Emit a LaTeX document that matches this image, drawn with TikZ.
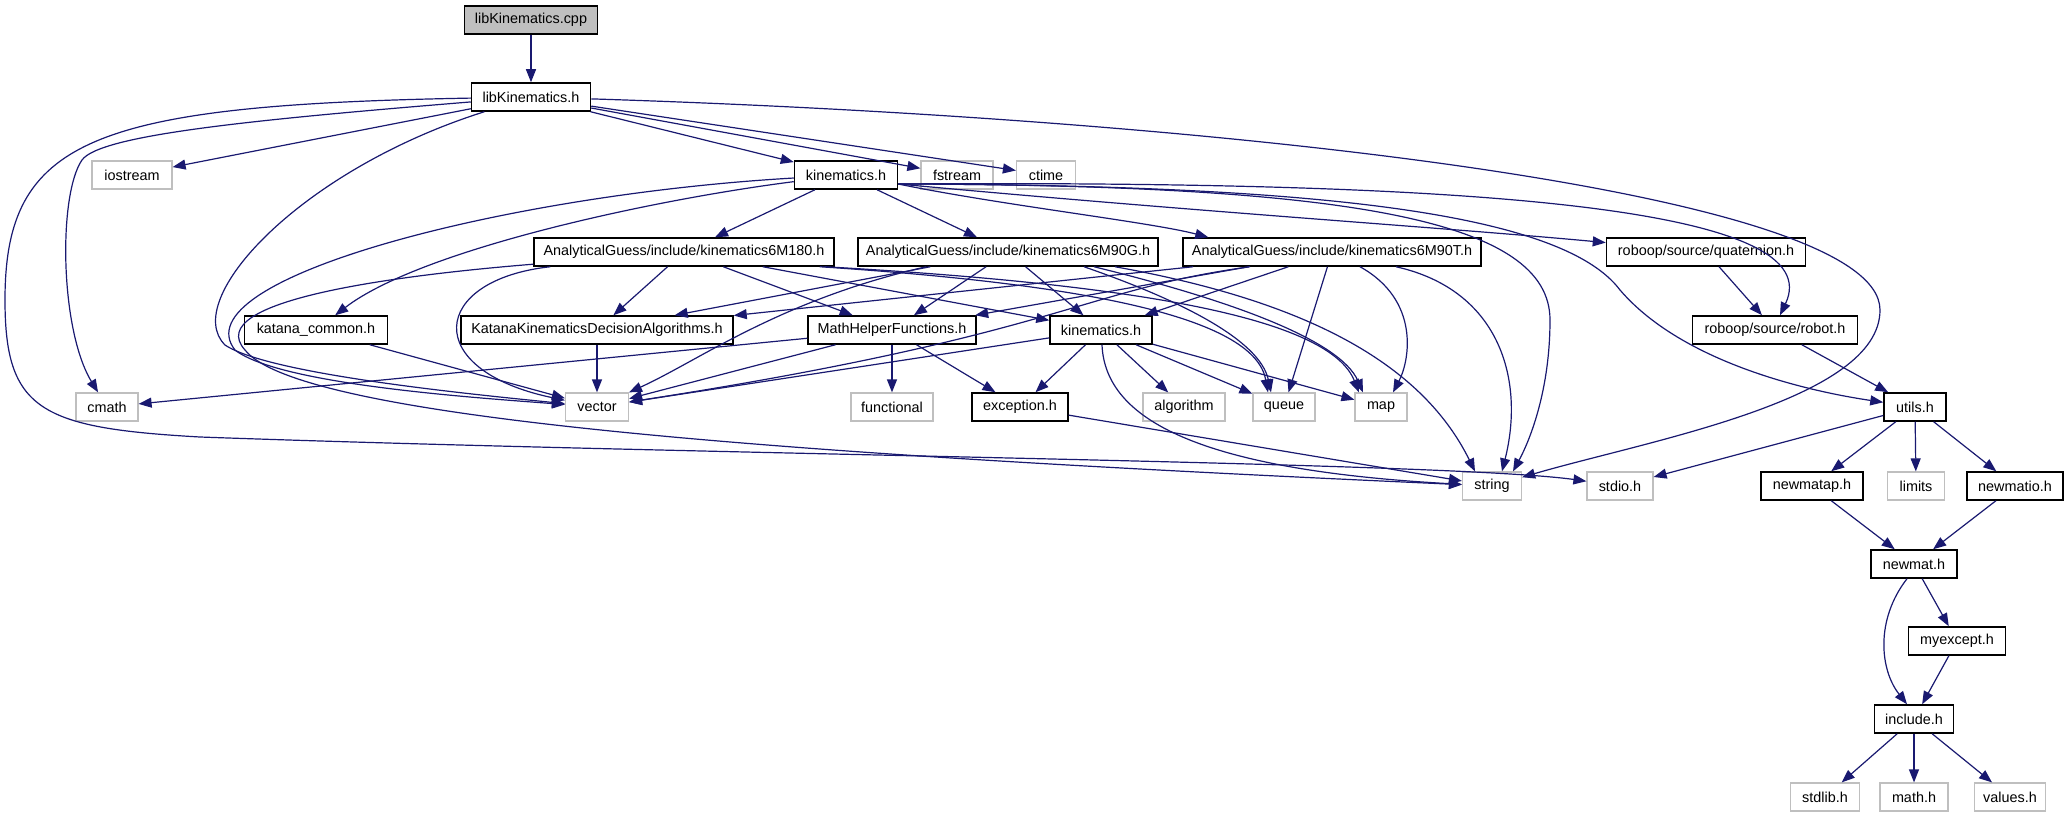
\documentclass[tikz,border=0pt]{standalone}
\usepackage{fontspec}
\setmainfont{Liberation Sans}
\usepackage{xcolor}
\usepackage{tikz}
\usetikzlibrary{arrows.meta,calc}
\definecolor{DoxyBlue}{HTML}{191970}
\definecolor{DoxyGray}{HTML}{BFBFBF}
\tikzset{
  >={Triangle[length=6.5pt,width=5pt]},
  flow/.style={->,draw=DoxyBlue,line width=0.6pt},
  hfile/.style={draw=black,fill=white,line width=0.75pt,minimum height=14pt,
    inner xsep=2pt,inner ysep=0pt,font=\fontsize{7.2}{8}\selectfont},
  sysfile/.style={hfile,draw=DoxyGray,line width=0.6pt},
  srcfile/.style={hfile,fill=DoxyGray}
}
\begin{document}
\begin{tikzpicture}[x=0.5pt,y=-0.5pt]
        \useasboundingbox (0,0) rectangle (2069,813);
        \node[srcfile,minimum width=66.5pt] (cpp) at (531,20) {libKinematics.cpp};
        \node[hfile,minimum width=59.5pt] (libh) at (531,97) {libKinematics.h};
        \node[sysfile,minimum width=40pt] (iostream) at (132,175) {iostream};
        \node[hfile,minimum width=51.5pt] (kinA) at (846,175) {kinematics.h};
        \node[sysfile,minimum width=36pt] (fstream) at (957,175) {fstream};
        \node[sysfile,minimum width=29.5pt] (ctime) at (1046,175) {ctime};
        \node[hfile,minimum width=150pt] (g180) at (684,252) {AnalyticalGuess/include/kinematics6M180.h};
        \node[hfile,minimum width=150pt] (g90g) at (1008,252) {AnalyticalGuess/include/kinematics6M90G.h};
        \node[hfile,minimum width=149pt] (g90t) at (1332,252) {AnalyticalGuess/include/kinematics6M90T.h};
        \node[hfile,minimum width=99.5pt] (quat) at (1706,252) {roboop/source/quaternion.h};
        \node[hfile,minimum width=71.5pt] (katana) at (316,330) {katana\_common.h};
        \node[hfile,minimum width=136pt] (kkda) at (597,330) {KatanaKinematicsDecisionAlgorithms.h};
        \node[hfile,minimum width=84pt] (mhf) at (892,330) {MathHelperFunctions.h};
        \node[hfile,minimum width=51pt] (kinB) at (1101,330) {kinematics.h};
        \node[hfile,minimum width=82.5pt] (robot) at (1775,330) {roboop/source/robot.h};
        \node[sysfile,minimum width=31pt] (cmath) at (107,407) {cmath};
        \node[sysfile,minimum width=31.5pt] (vector) at (597,407) {vector};
        \node[sysfile,minimum width=41pt] (functional) at (892,407) {functional};
        \node[hfile,minimum width=48pt] (exception) at (1020,407) {exception.h};
        \node[sysfile,minimum width=41pt] (algorithm) at (1184,407) {algorithm};
        \node[sysfile,minimum width=31pt] (queue) at (1284,407) {queue};
        \node[sysfile,minimum width=26pt] (map) at (1381,407) {map};
        \node[hfile,minimum width=31pt] (utils) at (1915,407) {utils.h};
        \node[sysfile,minimum width=29.5pt] (string) at (1492,486) {string};
        \node[sysfile,minimum width=33pt] (stdio) at (1620,486) {stdio.h};
        \node[hfile,minimum width=51pt] (newmatap) at (1812,486) {newmatap.h};
        \node[sysfile,minimum width=28.5pt] (limits) at (1916,486) {limits};
        \node[hfile,minimum width=48pt] (newmatio) at (2015,486) {newmatio.h};
        \node[hfile,minimum width=43pt] (newmat) at (1914,564) {newmat.h};
        \node[hfile,minimum width=48.5pt] (myexcept) at (1957,641) {myexcept.h};
        \node[hfile,minimum width=39.5pt] (include) at (1914,719) {include.h};
        \node[sysfile,minimum width=34.5pt] (stdlib) at (1825,797) {stdlib.h};
        \node[sysfile,minimum width=34pt] (mathh) at (1914,797) {math.h};
        \node[sysfile,minimum width=35.5pt] (values) at (2010,797) {values.h};
        \coordinate (kinAout) at ($(kinA.east)+(0,9)$);
        \draw[flow] (cpp) -- (libh);
        \draw[flow] (libh) -- (iostream);
        \draw[flow] (libh) .. controls (250,120) and (100,135) .. (82,160) .. controls (58,195) and (60,330) .. (cmath);
        \draw[flow] (libh) .. controls (90,105) and (5,140) .. (5,300) .. controls (5,410) and (40,428) .. (200,437) .. controls (700,455) and (1450,462) .. (stdio);
        \draw[flow] (libh) .. controls (300,170) and (180,300) .. (225,345) .. controls (270,375) and (480,395) .. (vector);
        \draw[flow] (libh) -- (kinA);
        \draw[flow] (libh) -- (fstream);
        \draw[flow] (libh) -- (ctime);
        \draw[flow] (libh) .. controls (1200,118) and (1880,190) .. (1880,310) .. controls (1880,400) and (1650,440) .. (string);
        \draw[flow] (kinA) .. controls (650,200) and (420,250) .. (katana);
        \draw[flow] (kinA) .. controls (500,195) and (180,280) .. (235,350) .. controls (280,385) and (480,398) .. (vector);
        \draw[flow] (kinA) -- (g180);
        \draw[flow] (kinA) -- (g90g);
        \draw[flow] (kinAout) .. controls (1000,205) and (1150,222) .. ($(g90t.north west)+(26,0)$);
        \draw[flow] (kinAout) .. controls (1200,212) and (1450,228) .. (quat);
        \draw[flow] (kinAout) .. controls (1500,180) and (1830,210) .. ($(robot.north)+(5,0)$);
        \draw[flow] (kinAout) .. controls (1300,185) and (1560,210) .. (1620,290) .. controls (1680,360) and (1800,390) .. (utils);
        \draw[flow] (kinAout) .. controls (1350,185) and (1550,220) .. (1550,320) .. controls (1550,390) and (1530,440) .. ($(string.north)+(21,0)$);
        \draw[flow] (g180) .. controls (400,275) and (200,300) .. (245,350) .. controls (300,420) and (800,455) .. (string);
        \draw[flow] (g180) .. controls (430,280) and (420,370) .. (vector);
        \draw[flow] (g180) -- (kkda);
        \draw[flow] (g180) -- (mhf);
        \draw[flow] (g180) -- (kinB);
        \draw[flow] ($(g180.south east)+(-15,0)$) .. controls (1100,285) and (1255,320) .. ($(queue.north)+(-16,0)$);
        \draw[flow] ($(g180.south east)+(-10,0)$) .. controls (1150,285) and (1330,320) .. ($(map.north)+(-22,0)$);
        \draw[flow] (g90g) -- (kkda);
        \draw[flow] ($(g90g.south west)+(69,0)$) .. controls (780,300) and (700,360) .. (vector);
        \draw[flow] (g90g) -- (mhf);
        \draw[flow] (g90g) -- (kinB);
        \draw[flow] ($(g90g.south)+(76,0)$) .. controls (1180,300) and (1260,340) .. ($(queue.north)+(-13,0)$);
        \draw[flow] ($(g90g.south)+(86,0)$) .. controls (1230,300) and (1340,340) .. ($(map.north)+(-18,0)$);
        \draw[flow] ($(g90g.south)+(107,0)$) .. controls (1300,300) and (1420,360) .. ($(string.north)+(-17,0)$);
        \draw[flow] (g90t) -- (kkda);
        \draw[flow] (g90t) -- (mhf);
        \draw[flow] ($(g90t.south)+(-82,0)$) .. controls (1080,290) and (1060,335) .. (vector);
        \draw[flow] (g90t) -- (kinB);
        \draw[flow] (g90t) -- (queue);
        \draw[flow] ($(g90t.south)+(28,0)$) .. controls (1420,300) and (1410,360) .. ($(map.north)+(12,0)$);
        \draw[flow] ($(g90t.south)+(64,0)$) .. controls (1500,290) and (1525,380) .. ($(string.north)+(10,0)$);
        \draw[flow] (kinB) -- (vector);
        \draw[flow] (kinB) -- (exception);
        \draw[flow] ($(kinB.south)+(1,0)$) .. controls (1105,420) and (1200,470) .. (string);
        \draw[flow] (kinB) -- (algorithm);
        \draw[flow] (kinB) -- (queue);
        \draw[flow] (kinB) -- (map);
        \draw[flow] (mhf) -- (cmath);
        \draw[flow] (mhf) -- (vector);
        \draw[flow] (mhf) -- (functional);
        \draw[flow] (mhf) -- (exception);
        \draw[flow] (kkda) -- (vector);
        \draw[flow] (katana) -- (vector);
        \draw[flow] (exception) -- (string);
        \draw[flow] (quat) -- (robot);
        \draw[flow] (robot) -- (utils);
        \draw[flow] (utils) -- (stdio);
        \draw[flow] (utils) -- (newmatap);
        \draw[flow] (utils) -- (limits);
        \draw[flow] (utils) -- (newmatio);
        \draw[flow] (newmatap) -- (newmat);
        \draw[flow] (newmatio) -- (newmat);
        \draw[flow] (newmat) -- (myexcept);
        \draw[flow] ($(newmat.south)+(-7,0)$) .. controls (1875,620) and (1880,670) .. ($(include.north)+(-7,0)$);
        \draw[flow] (myexcept) -- (include);
        \draw[flow] (include) -- (stdlib);
        \draw[flow] (include) -- (mathh);
        \draw[flow] (include) -- (values);
      \end{tikzpicture}
\end{document}
